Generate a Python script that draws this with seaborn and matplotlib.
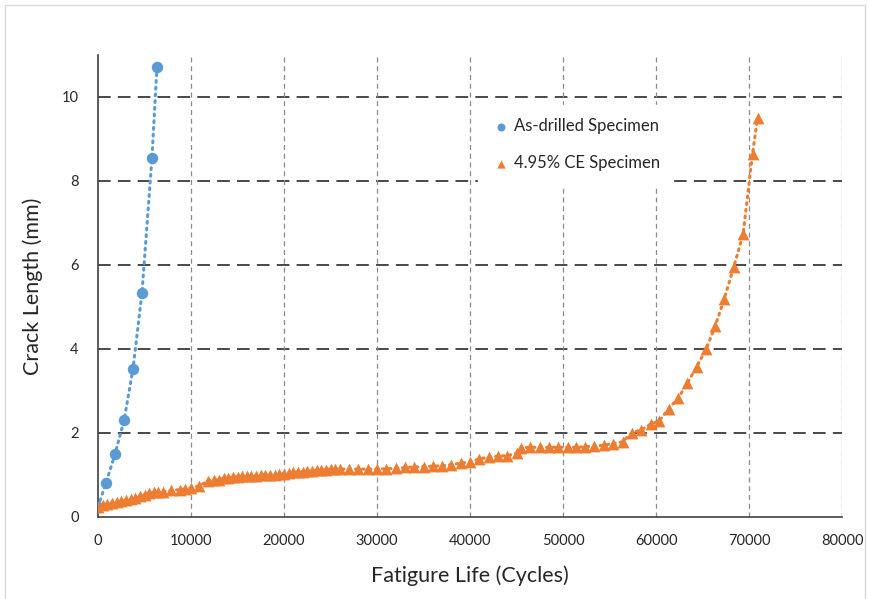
import matplotlib
matplotlib.use("Agg")
import matplotlib.pyplot as plt
import seaborn as sns
import pandas as pd
from matplotlib.patches import Rectangle

# ---- data ----
drilled_cycles = [0, 860, 1830, 2800, 3760, 4730, 5800, 6340]
drilled_crack = [0.24, 0.81, 1.50, 2.30, 3.52, 5.34, 8.55, 10.71]

ce_cycles = [0, 500, 1000, 1500, 2000, 2500, 3000, 3500, 4000, 4500, 5000, 5500,
             6000, 6500, 7000, 7900, 8800, 9400, 10000, 10900, 11800, 12500, 13000,
             13500, 14000, 14500, 15000, 15500, 16000, 16500, 17000, 17500, 18000,
             18500, 19000, 19500, 20000, 20500, 21000, 21500, 22000, 22500, 23000,
             23500, 24000, 24500, 25000, 25500, 26000, 27000, 28000, 29000, 30000,
             31000, 32000, 33000, 34000, 35000, 36000, 37000, 38000, 39000, 40000,
             41000, 42000, 43000, 44000, 45000, 45500, 46500, 47500, 48500, 49500,
             50500, 51400, 52350, 53320, 54400, 55400, 56400, 57400, 58410, 59410,
             60340, 61380, 62380, 63350, 64360, 65400, 66360, 67330, 68370, 69370,
             70380, 70920]
ce_crack = [0.25, 0.28, 0.31, 0.34, 0.36, 0.38, 0.40, 0.42, 0.45, 0.49, 0.53, 0.57,
            0.59, 0.60, 0.60, 0.64, 0.65, 0.67, 0.70, 0.74, 0.86, 0.88, 0.89,
            0.92, 0.94, 0.95, 0.96, 0.97, 0.97, 0.98, 0.98, 0.99, 1.00,
            1.00, 1.01, 1.02, 1.03, 1.05, 1.06, 1.07, 1.08, 1.09, 1.10,
            1.11, 1.12, 1.13, 1.14, 1.14, 1.14, 1.14, 1.14, 1.14, 1.14,
            1.15, 1.16, 1.18, 1.19, 1.20, 1.21, 1.22, 1.25, 1.28, 1.31,
            1.38, 1.43, 1.45, 1.46, 1.52, 1.65, 1.66, 1.66, 1.66, 1.66,
            1.66, 1.66, 1.67, 1.69, 1.71, 1.75, 1.79, 2.01, 2.07, 2.21,
            2.29, 2.58, 2.83, 3.18, 3.57, 4.00, 4.54, 5.19, 5.96, 6.74,
            8.65, 9.50]

x_ticks = [0, 10000, 20000, 30000, 40000, 50000, 60000, 70000, 80000]
y_ticks = [0, 2, 4, 6, 8, 10]
labels = ["As-drilled Specimen", "4.95% CE Specimen"]

blue = "#5B9BD5"
orange = "#ED7D31"

sns.set_style("white")
plt.rcParams["font.family"] = ["Lato", "DejaVu Sans"]

df_d = pd.DataFrame({"cycles": drilled_cycles, "crack": drilled_crack})
df_c = pd.DataFrame({"cycles": ce_cycles, "crack": ce_crack})

fig = plt.figure(figsize=(8.69, 5.99), dpi=100)
ax = fig.add_axes([98 / 869, 1 - 517 / 599, (842 - 98) / 869, (517 - 55) / 599])

# gridlines
for yv in y_ticks[1:]:
    ax.axhline(yv, color="#3a3a3a", lw=1.3, ls=(0, (7, 4)), zorder=0)
for xv in x_ticks[1:]:
    ax.axvline(xv, color="#8c8c8c", lw=0.9, ls=(0, (4, 3)), zorder=0)

# dotted connecting lines
sns.lineplot(data=df_d, x="cycles", y="crack", ax=ax, sort=False, estimator=None,
             color=blue, lw=2.2, ls=(0, (0.6, 1.6)), legend=False, zorder=2)
sns.lineplot(data=df_c, x="cycles", y="crack", ax=ax, sort=False, estimator=None,
             color=orange, lw=2.2, ls=(0, (0.6, 1.6)), legend=False, zorder=2)
for ln in ax.lines[-2:]:
    ln.set_dash_capstyle("round")

sns.scatterplot(data=df_d, x="cycles", y="crack", ax=ax, color=blue, marker="o",
                s=68, edgecolor=blue, linewidth=0, label=labels[0], zorder=3)
sns.scatterplot(data=df_c, x="cycles", y="crack", ax=ax, color=orange, marker="^",
                s=72, edgecolor=orange, linewidth=0, label=labels[1], zorder=4)

ax.set_xlim(0, 80000)
ax.set_ylim(0, 11)
ax.set_xticks(x_ticks)
ax.set_xticklabels([str(v) for v in x_ticks])
ax.set_yticks(y_ticks)
ax.set_yticklabels([str(v) for v in y_ticks])
ax.tick_params(axis="x", direction="in", length=4, width=1, color="#404040",
               labelsize=10.5, pad=12, labelcolor="#262626")
ax.tick_params(axis="y", length=0, labelsize=10.5, pad=14, labelcolor="#262626")

for side in ["top", "right"]:
    ax.spines[side].set_visible(False)
for side in ["left", "bottom"]:
    ax.spines[side].set_color("#404040")
    ax.spines[side].set_linewidth(1.2)

ax.set_xlabel("Fatigure Life (Cycles)", fontsize=15.5, color="#262626", labelpad=13)
ax.set_ylabel("Crack Length (mm)", fontsize=15.5, color="#262626", labelpad=13)

leg = ax.legend(loc="upper left", bbox_to_anchor=((478 - 98) / 744, (517 - 105) / 462),
                frameon=True, fontsize=12, labelspacing=1.25, handletextpad=0.15,
                borderpad=0.8, handlelength=1.2, markerscale=0.7, borderaxespad=0)
leg.get_frame().set_edgecolor("white")
leg.get_frame().set_facecolor("white")
leg.get_frame().set_alpha(1)
leg.get_frame().set_boxstyle("square", pad=0)
leg.set_zorder(5)

fig.patches.append(Rectangle((5 / 869, -0.02), (865 - 5) / 869, 1.02 - 5 / 599,
                             transform=fig.transFigure, fill=False,
                             edgecolor="#d9d9d9", lw=1))

fig.savefig("out.png", dpi=100, facecolor="white")
